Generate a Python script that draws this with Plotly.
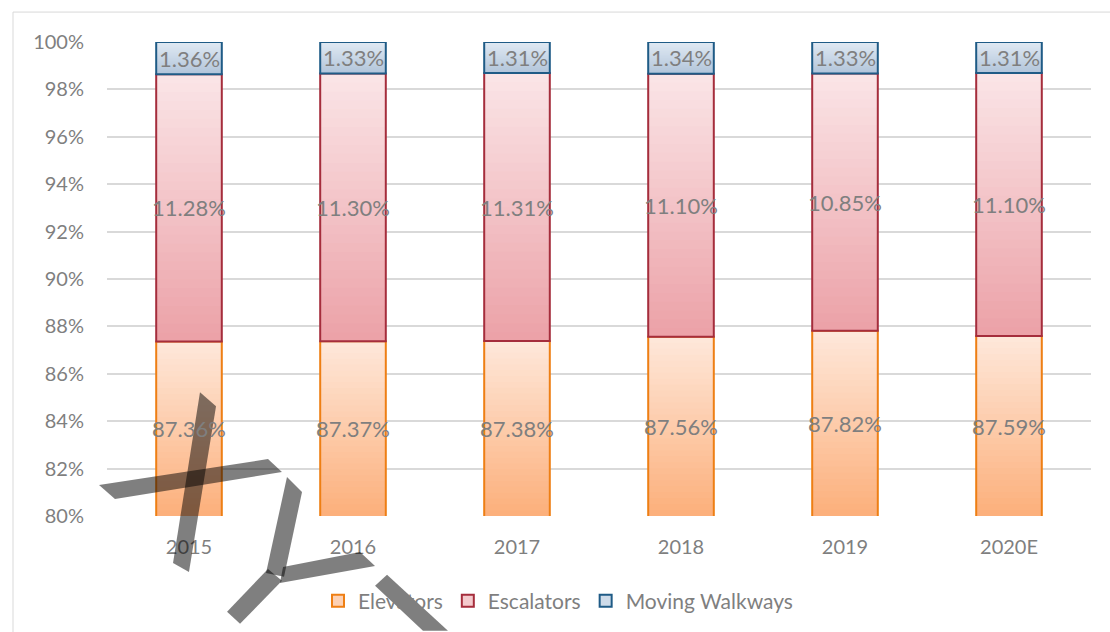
import plotly.graph_objects as go

# Market share of elevator-industry product lines, in percent
years = ["2015", "2016", "2017", "2018", "2019", "2020E"]
elevators = [87.36, 87.37, 87.38, 87.56, 87.82, 87.59]
escalators = [11.28, 11.30, 11.31, 11.10, 10.85, 11.10]
walkways = [1.36, 1.33, 1.31, 1.34, 1.33, 1.31]
y_ticks = list(range(80, 101, 2))

Y_MIN, Y_MAX = 80, 100
W, H = 1110, 632
M_L, M_R, M_T, M_B = 107, 19, 42, 115
FONT = "Lato, Carlito, Calibri, sans-serif"
TEXT_GREY = "#7F7F7F"
N_STEPS = 30

# name, values, gradient top colour, gradient bottom colour, border colour
series = [
    ("Elevators", elevators, "#FEE7D9", "#FCB07C", "#EE7F14"),
    ("Escalators", escalators, "#FAE4E6", "#ECA2A8", "#A52D3C"),
    ("Moving Walkways", walkways, "#E0E9F3", "#B2C5DA", "#1F5B86"),
]


def hex_rgb(h):
    h = h.lstrip("#")
    return tuple(int(h[i:i + 2], 16) for i in (0, 2, 4))


def mix(c1, c2, t):
    a, b = hex_rgb(c1), hex_rgb(c2)
    return "rgb({},{},{})".format(*[round(a[i] + (b[i] - a[i]) * t) for i in range(3)])


def px_to_paper(px, py):
    return ((px - M_L) / (W - M_L - M_R), (H - M_B - py) / (H - M_T - M_B))


fig = go.Figure()
annotations = []

bases = [0.0] * len(years)
for name, vals, c_top, c_bot, c_line in series:
    tops = [b + v for b, v in zip(bases, vals)]
    lows = [max(b, Y_MIN) for b in bases]
    spans = [t - lo for t, lo in zip(tops, lows)]

    # vertical gradient: nested bars, each shorter one darker
    for k in range(N_STEPS):
        frac = k / (N_STEPS - 1)
        fig.add_trace(go.Bar(
            x=years, y=[s * (N_STEPS - k) / N_STEPS for s in spans], base=lows,
            marker=dict(color=mix(c_top, c_bot, frac), line=dict(width=0)),
            showlegend=False, hoverinfo="skip",
        ))

    # outline of the full segment
    fig.add_trace(go.Bar(
        x=years, y=vals, base=list(bases),
        marker=dict(color="rgba(0,0,0,0)", line=dict(color=c_line, width=2)),
        showlegend=False, hoverinfo="skip",
    ))

    # legend entry (no visible bar)
    fig.add_trace(go.Bar(
        x=[years[0]], y=[None], name=name,
        marker=dict(color=mix(c_top, c_bot, 0.4), line=dict(color=c_line, width=2)),
        showlegend=True, hoverinfo="skip",
    ))

    # value labels centred on the visible part of each segment
    for i, (lo, t, v) in enumerate(zip(lows, tops, vals)):
        annotations.append(dict(
            x=i, y=(lo + t) / 2, xref="x", yref="y",
            text=f"{v:.2f}%", showarrow=False,
            font=dict(family=FONT, size=22, color=TEXT_GREY),
        ))

    bases = tops

# watermark strokes
strokes = [
    [(200, 393), (216, 407), (189, 573), (173, 564)],
    [(99, 486), (268, 460), (282, 473), (115, 500)],
    [(287, 478), (302, 493), (284, 578), (266, 574)],
    [(283, 568), (360, 553), (375, 567), (280, 584)],
    [(268, 570), (282, 582), (240, 625), (227, 613)],
    [(375, 587), (387, 576), (448, 632), (423, 632)],
]
shapes = []
for poly in strokes:
    pts = [px_to_paper(x, y) for x, y in poly]
    path = "M " + " L ".join(f"{x:.4f},{y:.4f}" for x, y in pts) + " Z"
    shapes.append(dict(type="path", xref="paper", yref="paper", path=path,
                       fillcolor="rgba(0,0,0,0.5)", line=dict(width=0), layer="above"))

# chart frame
fx0, fy0 = px_to_paper(13, 12)
fx1, fy1 = px_to_paper(W + 10, H + 10)
shapes.append(dict(type="rect", xref="paper", yref="paper", x0=fx0, y0=fy0, x1=fx1, y1=fy1,
                   line=dict(color="#D9D9D9", width=1), fillcolor="rgba(0,0,0,0)", layer="below"))

lx, ly = px_to_paper(558, 601)

fig.update_layout(
    width=W, height=H,
    margin=dict(l=M_L, r=M_R, t=M_T, b=M_B),
    paper_bgcolor="white", plot_bgcolor="white",
    barmode="overlay", bargap=0.6,
    font=dict(family=FONT, size=20, color=TEXT_GREY),
    xaxis=dict(type="category", categoryorder="array", categoryarray=years,
               range=[-0.5, len(years) - 0.5],
               showgrid=False, showline=False, zeroline=False,
               ticks="", ticklabelstandoff=17,
               tickfont=dict(family=FONT, size=20, color=TEXT_GREY)),
    yaxis=dict(range=[Y_MIN, Y_MAX], tickvals=y_ticks, ticktext=[f"{v}%" for v in y_ticks],
               showgrid=True, gridcolor="#D9D9D9", gridwidth=1.5, zeroline=False,
               showline=False, ticks="", ticklabelstandoff=22,
               tickfont=dict(family=FONT, size=20, color=TEXT_GREY)),
    legend=dict(orientation="h", x=lx, y=ly, xanchor="center", yanchor="middle",
                font=dict(family=FONT, size=21, color=TEXT_GREY), traceorder="normal",
                bgcolor="rgba(0,0,0,0)"),
    annotations=annotations,
    shapes=shapes,
    showlegend=True,
)

fig.write_html("out.html")
